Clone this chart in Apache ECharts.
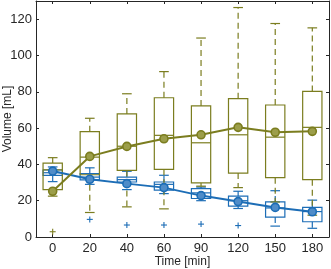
<!DOCTYPE html>
<html>
<head>
<meta charset="utf-8">
<script src="https://cdn.jsdelivr.net/npm/echarts@6/dist/echarts.min.js"></script>
</head>
<body style="margin:0">
<div id="container" style="width:331px;height:269px"></div>
<script>
var times = ['0', '20', '40', '60', '90', '120', '150', '180'];
var yTicks = [0, 20, 40, 60, 80, 100, 120];
// [low, q1, median, q3, high]
var oliveBox = [
  [22.5, 26.1, 37, 40.7, 43.7],
  [13.5, 34.3, 44, 58, 65.4],
  [16.6, 36.7, 50, 67.8, 78.9],
  [15.5, 37.3, 56, 76.7, 91.1],
  [28, 29.8, 51.9, 72.2, 109.6],
  [27.2, 35.2, 56.3, 76.2, 126.4],
  [19.3, 32.7, 55, 72.7, 117.6],
  [12, 31.6, 60.4, 80.2, 115.2]
];
var blueBox = [
  [30.5, 34, 35.4, 36.9, 38.6],
  [29, 31.5, 33, 34.9, 38.1],
  [26.1, 30.3, 31.6, 33, 36.2],
  [23.9, 25.8, 29, 30.3, 34],
  [20, 21.2, 24.3, 26.7, 27.5],
  [15.7, 17, 20, 22.5, 25.2],
  [6, 11, 16, 19.3, 25.5],
  [4.8, 8.4, 14, 16.3, 20.3]
];
var oliveMean = [25.2, 44.4, 49.9, 54.1, 56.3, 60.4, 57.7, 58.2];
var blueMean = [36.3, 31.8, 29.4, 27.2, 22.8, 19.5, 16.3, 13.9];
var oliveOut = [[0, 2.9]];
var blueOut = [[1, 9.7], [2, 6.6], [3, 6.6], [4, 7.1], [5, 6.3]];

var olive = '#7b7d1f';
var blue = '#1c6db6';
var ink = '#262626';
var font = 'Liberation Sans, Arial, sans-serif';
var idx = times.map(function (t, i) { return i; });

function rows(box) {
  return box.map(function (b, i) { return [i].concat(b); });
}

function boxItem(color) {
  return function (params, api) {
    var i = api.value(0);
    var low = api.coord([i, api.value(1)]);
    var q1 = api.coord([i, api.value(2)]);
    var med = api.coord([i, api.value(3)]);
    var q3 = api.coord([i, api.value(4)]);
    var high = api.coord([i, api.value(5)]);
    var hw = api.size([1, 0])[0] * 0.26;
    var cw = hw * 0.5;
    var x = q1[0];
    var solid = { stroke: color, lineWidth: 1.2, fill: null };
    var dash = { stroke: color, lineWidth: 1.2, lineDash: [6, 4], fill: null };
    return {
      type: 'group',
      children: [
        { type: 'line', shape: { x1: x, y1: q3[1], x2: x, y2: high[1] }, style: dash },
        { type: 'line', shape: { x1: x, y1: q1[1], x2: x, y2: low[1] }, style: dash },
        { type: 'line', shape: { x1: x - cw, y1: high[1], x2: x + cw, y2: high[1] }, style: solid },
        { type: 'line', shape: { x1: x - cw, y1: low[1], x2: x + cw, y2: low[1] }, style: solid },
        { type: 'rect', shape: { x: x - hw, y: q3[1], width: hw * 2, height: q1[1] - q3[1] }, style: solid },
        { type: 'line', shape: { x1: x - hw, y1: med[1], x2: x + hw, y2: med[1] }, style: solid }
      ]
    };
  };
}

function plusItem(color) {
  return function (params, api) {
    var p = api.coord([api.value(0), api.value(1)]);
    var s = 3;
    var st = { stroke: color, lineWidth: 1.1 };
    return {
      type: 'group',
      children: [
        { type: 'line', shape: { x1: p[0] - s, y1: p[1], x2: p[0] + s, y2: p[1] }, style: st },
        { type: 'line', shape: { x1: p[0], y1: p[1] - s, x2: p[0], y2: p[1] + s }, style: st }
      ]
    };
  };
}

function xAxis(pos) {
  return {
    type: 'value', position: pos, min: -0.45, max: 7.45,
    axisLine: { onZero: false, lineStyle: { color: ink, width: 1 } },
    axisTick: { inside: true, length: 3, customValues: idx, lineStyle: { color: ink } },
    axisLabel: {
      show: pos === 'bottom', customValues: idx, margin: 5,
      color: ink, fontSize: 13, fontFamily: font,
      formatter: function (v) { return times[Math.round(v)]; }
    },
    splitLine: { show: false },
    name: pos === 'bottom' ? 'Time [min]' : '',
    nameLocation: 'middle', nameGap: 19, nameMoveOverlap: false,
    nameTextStyle: { color: ink, fontSize: 12, fontFamily: font, verticalAlign: 'top' }
  };
}

function yAxis(pos) {
  return {
    type: 'value', position: pos, min: 0, max: 130,
    axisLine: { show: true, onZero: false, lineStyle: { color: ink, width: 1 } },
    axisTick: { show: true, inside: true, length: 3, customValues: yTicks, lineStyle: { color: ink } },
    axisLabel: {
      show: pos === 'left', customValues: yTicks, margin: 4,
      color: ink, fontSize: 13, fontFamily: font
    },
    splitLine: { show: false },
    name: pos === 'left' ? 'Volume [mL]' : '',
    nameLocation: 'middle', nameGap: 22, nameMoveOverlap: false,
    nameTextStyle: { color: ink, fontSize: 12, fontFamily: font, verticalAlign: 'bottom' }
  };
}

var myChart = echarts.init(document.getElementById('container'));
myChart.setOption({
  animation: false,
  backgroundColor: '#fff',
  grid: { left: 36, right: 2, top: 1, bottom: 32, containLabel: false, outerBoundsMode: 'none' },
  xAxis: [xAxis('bottom'), xAxis('top')],
  yAxis: [yAxis('left'), yAxis('right')],
  series: [
    { type: 'custom', renderItem: boxItem(blue), data: rows(blueBox), encode: { x: 0, y: [1, 2, 3, 4, 5] }, z: 2 },
    { type: 'custom', renderItem: boxItem(olive), data: rows(oliveBox), encode: { x: 0, y: [1, 2, 3, 4, 5] }, z: 2 },
    { type: 'custom', renderItem: plusItem(blue), data: blueOut, encode: { x: 0, y: 1 }, z: 2 },
    { type: 'custom', renderItem: plusItem(olive), data: oliveOut, encode: { x: 0, y: 1 }, z: 2 },
    {
      type: 'line', data: blueMean.map(function (v, i) { return [i, v]; }), z: 3,
      symbol: 'circle', symbolSize: 8,
      lineStyle: { color: blue, width: 2 },
      itemStyle: { color: '#4f8cc8', borderColor: blue, borderWidth: 1.6 }
    },
    {
      type: 'line', data: oliveMean.map(function (v, i) { return [i, v]; }), z: 3,
      symbol: 'circle', symbolSize: 8,
      lineStyle: { color: olive, width: 2 },
      itemStyle: { color: '#9c9e4a', borderColor: olive, borderWidth: 1.6 }
    }
  ]
});
</script>
</body>
</html>
